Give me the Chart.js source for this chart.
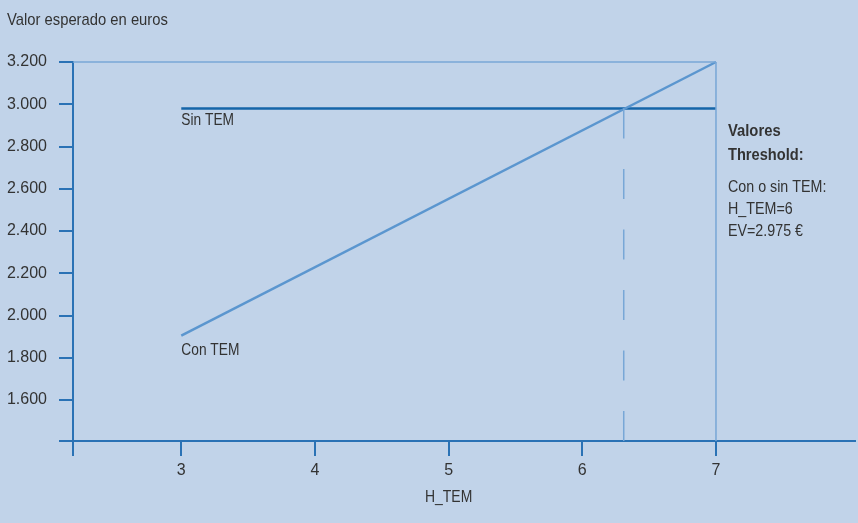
<!DOCTYPE html>
<html>
<head>
<meta charset="utf-8">
<script src="https://cdn.jsdelivr.net/npm/chart.js@4/dist/chart.umd.min.js"></script>
<style>
  body { margin: 0; background: #c1d3e9; }
  #wrap { width: 858px; height: 523px; }
</style>
</head>
<body>
<div id="wrap"><canvas id="chart" width="858" height="523"></canvas></div>
<script>
// data
const hTem = [3, 7]
const sinTem = [2980, 2980]
const conTem = [1905, 3200]
const xTicks = [3, 4, 5, 6, 7]
const yTicks = [1600, 1800, 2000, 2200, 2400, 2600, 2800, 3000, 3200]
const crossX = 6.31
const xMin = 2.19, xMax = 8.04
const yMin = 1406, yMax = 3200

const axisColor = '#2a72b5'
const lightLine = '#78a7d6'
const textColor = '#333333'
const font = 'Liberation Sans'

// condensed look: squeeze the text horizontally
function txt(c, s, x, y, sx) {
  c.save()
  c.translate(x, y)
  c.scale(sx, 1)
  c.fillText(s, 0, 0)
  c.restore()
}

const textPlugin = {
  id: 'texts',
  afterDraw(chart) {
    const c = chart.ctx
    const xs = chart.scales.x, ys = chart.scales.y
    c.save()
    c.fillStyle = textColor
    c.textBaseline = 'middle'
    c.textAlign = 'left'
    c.font = '17px ' + font
    txt(c, 'Valor esperado en euros', 7, 20, 0.87)
    txt(c, 'Sin TEM', xs.getPixelForValue(hTem[0]), ys.getPixelForValue(sinTem[0]) + 12, 0.81)
    txt(c, 'Con TEM', xs.getPixelForValue(hTem[0]), ys.getPixelForValue(conTem[0]) + 15, 0.81)
    const rx = xs.getPixelForValue(7) + 12
    c.font = 'bold 17px ' + font
    txt(c, 'Valores', rx, 131, 0.87)
    txt(c, 'Threshold:', rx, 155, 0.86)
    c.font = '17px ' + font
    txt(c, 'Con o sin TEM:', rx, 187, 0.84)
    txt(c, 'H_TEM=6', rx, 209, 0.84)
    txt(c, 'EV=2.975 €', rx, 231, 0.84)
    c.textAlign = 'center'
    txt(c, 'H_TEM', xs.getPixelForValue(5), 497, 0.82)
    c.restore()
  }
}

const ctx = document.getElementById('chart')
new Chart(ctx, {
  type: 'line',
  data: {
    datasets: [{
      label: 'frame top',
      data: [{x: xMin, y: yMax}, {x: 7, y: yMax}],
      borderColor: lightLine, borderWidth: 1.5, pointRadius: 0, clip: false
    }, {
      label: 'frame right',
      data: [{x: 7, y: yMax}, {x: 7, y: yMin}],
      borderColor: lightLine, borderWidth: 1.5, pointRadius: 0, clip: false
    }, {
      label: 'threshold',
      data: [{x: crossX, y: sinTem[0]}, {x: crossX, y: yMin}],
      borderColor: lightLine, borderWidth: 1.5, borderDash: [30, 30.5], pointRadius: 0
    }, {
      label: 'Con TEM',
      data: hTem.map((h, i) => ({x: h, y: conTem[i]})),
      borderColor: '#5b96cf', borderWidth: 2.5, pointRadius: 0, clip: false
    }, {
      label: 'Sin TEM',
      data: hTem.map((h, i) => ({x: h, y: sinTem[i]})),
      borderColor: '#1565a8', borderWidth: 2.5, pointRadius: 0
    }]
  },
  options: {
    responsive: false,
    animation: false,
    layout: { padding: { top: 62, right: 3, left: 0, bottom: 0 } },
    plugins: { legend: { display: false }, tooltip: { enabled: false }, title: { display: false } },
    scales: {
      x: {
        type: 'linear', min: xMin, max: xMax,
        afterBuildTicks: s => { s.ticks = [xMin].concat(xTicks).map(v => ({value: v})) },
        afterFit: s => { s.height = 82 },
        border: { display: true, color: axisColor, width: 2 },
        grid: { drawOnChartArea: false, drawTicks: true, tickLength: 15, color: axisColor, lineWidth: 2 },
        ticks: {
          padding: 5, color: textColor, font: { family: font, size: 16 },
          maxRotation: 0, autoSkip: false,
          callback: v => xTicks.includes(v) ? String(v) : ''
        }
      },
      y: {
        min: yMin, max: yMax,
        afterBuildTicks: s => { s.ticks = [yMin].concat(yTicks).map(v => ({value: v})) },
        afterFit: s => { s.width = 73 },
        border: { display: true, color: axisColor, width: 2 },
        grid: { drawOnChartArea: false, drawTicks: true, tickLength: 14, color: axisColor, lineWidth: 2 },
        ticks: {
          padding: 12, color: textColor, font: { family: font, size: 16 }, autoSkip: false,
          callback: v => yTicks.includes(v) ? v.toLocaleString('de-DE') : ''
        }
      }
    }
  },
  plugins: [textPlugin]
})
</script>
</body>
</html>
